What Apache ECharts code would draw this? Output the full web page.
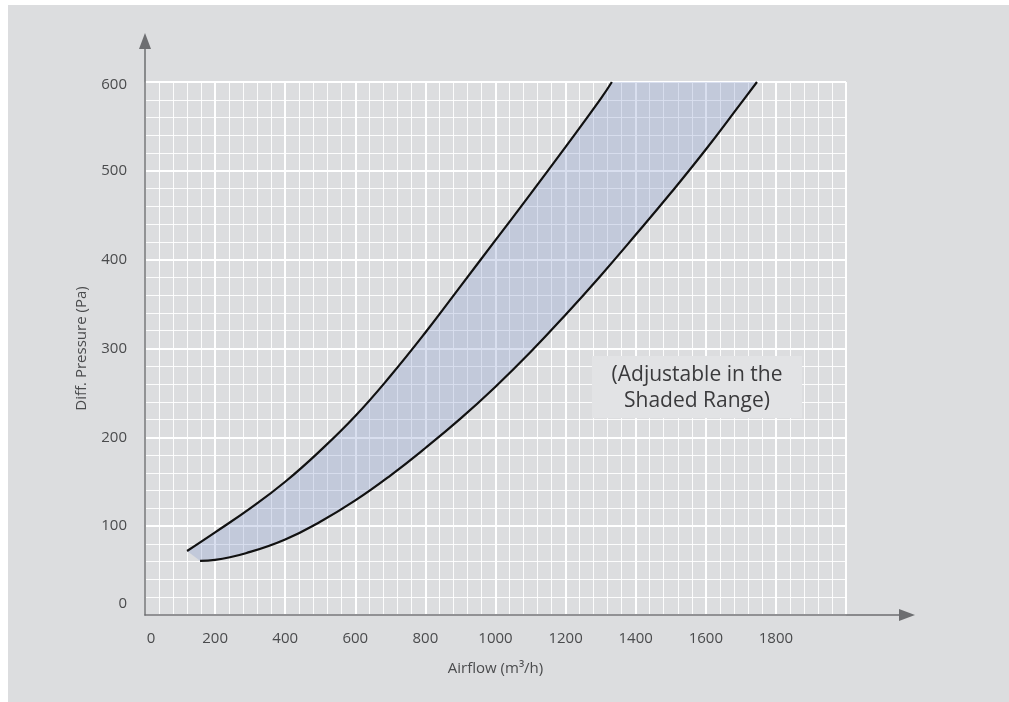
<!DOCTYPE html>
<html>
<head>
<meta charset="utf-8">
<script src="https://cdn.jsdelivr.net/npm/echarts@6/dist/echarts.min.js"></script>
<style>
  html, body { margin: 0; padding: 0; background: #ffffff; }
  #bg { position: absolute; left: 8px; top: 5px; right: 0; bottom: 0; background: #dcdddf; }
  #chart { position: absolute; left: 0; top: 0; width: 1009px; height: 702px; }
</style>
</head>
<body>
<div id="bg"></div>
<div id="chart"></div>
<script>
// ---- data ----
const xTickLabels = ['0', '200', '400', '600', '800', '1000', '1200', '1400', '1600', '1800'];
const yTickLabels = ['0', '100', '200', '300', '400', '500', '600'];
// upper boundary curve [airflow m3/h, pressure Pa]
const upperCurve = [
  [120, 72], [200, 93], [300, 120], [400, 150], [500, 185], [600, 224], [700, 269],
  [800, 318], [900, 370], [1000, 422], [1100, 474], [1200, 527], [1300, 581], [1332, 600]
];
// lower boundary curve
const lowerCurve = [
  [157, 61], [200, 62], [300, 71], [400, 85], [500, 105], [600, 129], [700, 157],
  [800, 188], [900, 221], [1000, 257], [1100, 296], [1200, 338], [1300, 382],
  [1400, 428], [1500, 475], [1600, 524], [1700, 576], [1746, 600]
];
const xName = 'Airflow (m³/h)';
const yName = 'Diff. Pressure (Pa)';
const noteText = '(Adjustable in the\nShaded Range)';

const FONT = '"Open Sans", "Noto Sans", sans-serif';
const LABEL_COLOR = '#4a4b4d';
const AXIS_COLOR = '#6d6e71';

const chart = echarts.init(document.getElementById('chart'), null, { renderer: 'canvas' });

const option = {
  backgroundColor: 'transparent',
  animation: false,
  grid: [
    { left: 145, top: 82, width: 701, bottom: 87 },
    { left: 145, top: 41, right: 102, bottom: 87 }
  ],
  xAxis: [
    {
      type: 'value', gridIndex: 0, min: 0, max: 2000, interval: 200,
      axisLine: { show: false }, axisTick: { show: false },
      axisLabel: {
        margin: 16, color: LABEL_COLOR, fontFamily: FONT, fontSize: 15,
        formatter: function (v) {
          const s = String(v);
          if (xTickLabels.indexOf(s) < 0) return '';
          return s === '0' ? '{z|' + s + '}' : s;
        },
        rich: { z: { padding: [0, 0, 0, 12], color: LABEL_COLOR, fontFamily: FONT, fontSize: 15 } }
      },
      splitLine: { show: true, lineStyle: { color: '#ffffff', width: 2 } },
      minorTick: { show: false, splitNumber: 5 },
      minorSplitLine: { show: true, lineStyle: { color: 'rgba(255,255,255,0.9)', width: 1 } },
      name: xName, nameLocation: 'middle', nameGap: 46,
      nameTextStyle: { color: LABEL_COLOR, fontFamily: FONT, fontSize: 15 }
    },
    {
      type: 'value', gridIndex: 1, min: 0, max: 1, z: 10,
      axisLine: { show: true, onZero: false, symbol: ['none', 'triangle'], symbolSize: [12, 16],
        lineStyle: { color: AXIS_COLOR, width: 1.5 } },
      axisTick: { show: false }, axisLabel: { show: false }, splitLine: { show: false }
    }
  ],
  yAxis: [
    {
      type: 'value', gridIndex: 0, min: 0, max: 600, interval: 100,
      axisLine: { show: false }, axisTick: { show: false },
      axisLabel: {
        margin: 18, color: LABEL_COLOR, fontFamily: FONT, fontSize: 15,
        formatter: function (v) {
          const s = String(v);
          if (yTickLabels.indexOf(s) < 0) return '';
          if (s === '0') return '{z|' + s + '}';
          if (s === '600') return '{t|' + s + '}';
          return s;
        },
        rich: {
          z: { padding: [0, 0, 22, 0], color: LABEL_COLOR, fontFamily: FONT, fontSize: 15 },
          t: { padding: [6, 0, 0, 0], color: LABEL_COLOR, fontFamily: FONT, fontSize: 15 }
        }
      },
      splitLine: { show: true, lineStyle: { color: '#ffffff', width: 2 } },
      minorTick: { show: false, splitNumber: 5 },
      minorSplitLine: { show: true, lineStyle: { color: 'rgba(255,255,255,0.9)', width: 1 } },
      name: yName, nameLocation: 'middle', nameGap: 56,
      nameTextStyle: { color: LABEL_COLOR, fontFamily: FONT, fontSize: 15 }
    },
    {
      type: 'value', gridIndex: 1, min: 0, max: 1, z: 10,
      axisLine: { show: true, onZero: false, symbol: ['none', 'triangle'], symbolSize: [12, 16],
        lineStyle: { color: AXIS_COLOR, width: 1.5 } },
      axisTick: { show: false }, axisLabel: { show: false }, splitLine: { show: false }
    }
  ],
  graphic: [
    {
      type: 'rect', z: 100, silent: true,
      shape: { x: 592, y: 356, width: 210, height: 62 },
      style: { fill: '#e2e3e5' }
    },
    {
      type: 'text', z: 101, silent: true,
      x: 697, y: 388,
      style: {
        text: noteText, fill: '#3a3a3c', font: '21px ' + FONT,
        align: 'center', verticalAlign: 'middle', lineHeight: 26
      }
    }
  ],
  series: [
    {
      type: 'custom', xAxisIndex: 0, yAxisIndex: 0, z: 1, silent: true,
      data: [[0, 0]],
      renderItem: function (params, api) {
        const pts = [];
        upperCurve.forEach(function (p) { pts.push(api.coord(p)); });
        for (let i = lowerCurve.length - 1; i >= 0; i--) pts.push(api.coord(lowerCurve[i]));
        return {
          type: 'polygon',
          shape: { points: pts },
          style: { fill: 'rgba(150,165,210,0.36)', stroke: null }
        };
      }
    },
    {
      type: 'line', xAxisIndex: 0, yAxisIndex: 0, z: 3, data: upperCurve,
      smooth: 0.45, showSymbol: false, silent: true,
      lineStyle: { color: '#111111', width: 2.2 }
    },
    {
      type: 'line', xAxisIndex: 0, yAxisIndex: 0, z: 3, data: lowerCurve,
      smooth: 0.45, showSymbol: false, silent: true,
      lineStyle: { color: '#111111', width: 2.2 }
    }
  ]
};
chart.setOption(option);
</script>
</body>
</html>
